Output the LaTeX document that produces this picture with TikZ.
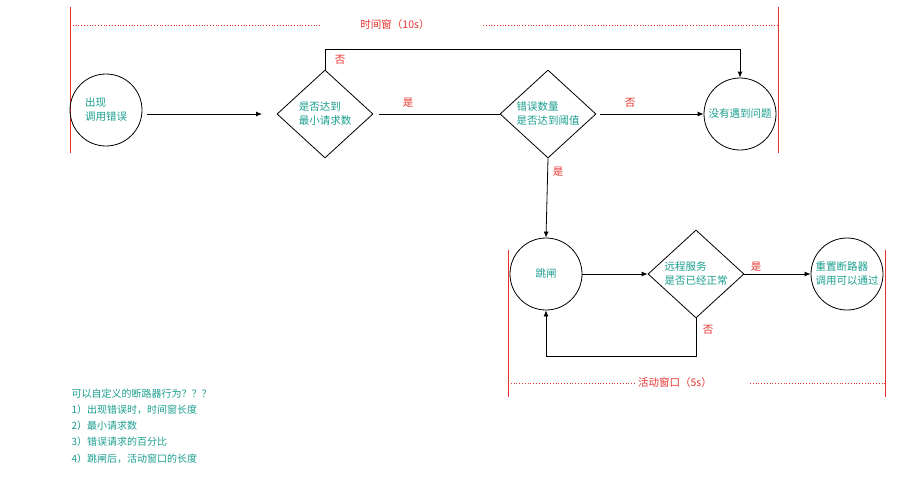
\documentclass[tikz,border=0pt]{standalone}
\usepackage{fontspec}
\setmainfont{Noto Sans CJK SC}
\usetikzlibrary{shapes.geometric,arrows.meta}
\definecolor{teal1}{HTML}{1A9E8F}
\definecolor{red1}{HTML}{E8322E}
\begin{document}
\begin{tikzpicture}[x=1pt,y=-1pt,
  every node/.style={font=\fontsize{10.5}{14}\selectfont},
  circ/.style={draw,thick,circle,minimum size=72pt,inner sep=0pt,text=teal1,align=left},
  dia/.style={draw,thick,diamond,minimum width=96pt,minimum height=88pt,inner sep=0pt,text=teal1,align=left},
  arr/.style={thick,-{Latex[length=6pt,width=5pt]}},
  lbl/.style={text=red1},
  win/.style={red1,line width=1pt},
  dots/.style={red1,dotted,thick}]
\useasboundingbox (0,0) rectangle (914,491);
% window 1
\coordinate (w1a) at (70,7); \coordinate (w1b) at (70,153);
\coordinate (w1c) at (778,7); \coordinate (w1d) at (778,153);
\draw[win] (w1a) -- (w1b); \draw[win] (w1c) -- (w1d);
\node[lbl] (t1) at (395,25) {时间窗（10s）};
\coordinate (d1a) at (70,25); \coordinate (d1b) at (320,25);
\coordinate (d1c) at (483,25); \coordinate (d1d) at (778,25);
\draw[dots] (d1a) -- (d1b); \draw[dots] (d1c) -- (d1d);
% nodes
\node[circ] (c1) at (106,110) {出现\\调用错误};
\node[dia] (q1) at (325,114) {是否达到\\最小请求数};
\node[dia] (q2) at (548,114) {错误数量\\是否达到阈值};
\node[circ] (c3) at (740,114) {没有遇到问题};
\node[circ] (c4) at (546,274) {跳闸};
\node[dia] (q3) at (696,274) {远程服务\\是否已经正常};
\node[circ] (c5) at (847,274) {重置断路器\\调用可以通过};
% edges
\coordinate (s1) at (147,114); \coordinate (e1) at (262,114);
\draw[arr] (s1) -- (e1);
\draw[thick] (q1.east) ++(6,0) coordinate (s2) -- (q2.west);
\node[lbl] at (408,103) {是};
\draw[arr] (q2.east) ++(4,0) coordinate (s3) -- (c3.west);
\node[lbl] at (630,103) {否};
\draw[arr] (q1.north) -- (325,49) -| (c3.north);
\node[lbl] at (340,60) {否};
\draw[arr] (q2.south) -- (c4.north);
\node[lbl] at (558,172) {是};
\draw[arr] (c4.east) -- (q3.west);
\draw[arr] (q3.east) -- (c5.west);
\node[lbl] at (756,267) {是};
\draw[arr] (q3.south) -- (696,356) -| (c4.south);
\node[lbl] at (708,330) {否};
% window 2
\coordinate (w2a) at (508,250); \coordinate (w2b) at (508,397);
\coordinate (w2c) at (885,250); \coordinate (w2d) at (885,397);
\draw[win] (w2a) -- (w2b); \draw[win] (w2c) -- (w2d);
\node[lbl] (t2) at (675,383) {活动窗口（5s）};
\coordinate (d2a) at (508,383); \coordinate (d2b) at (636,383);
\coordinate (d2c) at (750,383); \coordinate (d2d) at (885,383);
\draw[dots] (d2a) -- (d2b); \draw[dots] (d2c) -- (d2d);
% notes
\node[text=teal1,align=left,anchor=north west,font=\fontsize{10}{16.3}\selectfont] (notes) at (68,385)
 {可以自定义的断路器行为？？？\\1）出现错误时，时间窗长度\\2）最小请求数\\3）错误请求的百分比\\4）跳闸后，活动窗口的长度};
\end{tikzpicture}
\end{document}
